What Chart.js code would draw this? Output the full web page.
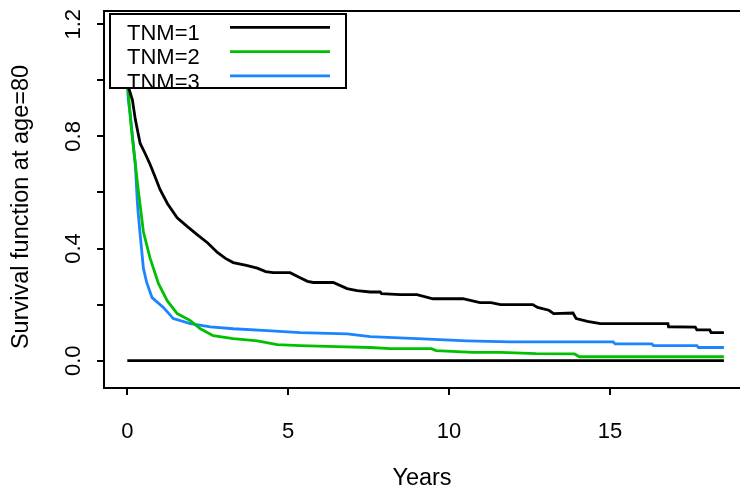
<!DOCTYPE html>
<html>
<head>
<meta charset="utf-8">
<script src="https://cdn.jsdelivr.net/npm/chart.js@4.4.1/dist/chart.umd.min.js"></script>
<style>
  body { margin: 0; background: #fff; }
  canvas { display: block; }
</style>
</head>
<body>
<canvas id="grafica" width="740" height="493"></canvas>
<script>
// Kaplan-Meier style curves (years, survival)
const tnm1_years = [0, 0.05, 0.16, 0.25, 0.40, 0.55, 0.71, 0.85, 1.02, 1.25, 1.55, 1.85, 2.17, 2.5, 2.8, 3.05, 3.29, 3.7, 4.04, 4.3, 4.53, 5.06, 5.37, 5.6, 5.78, 6.40, 6.83, 7.14, 7.55, 7.86, 7.9, 8.48, 9.0, 9.5, 10.43, 10.96, 11.3, 11.6, 12.6, 12.75, 13.1, 13.25, 13.85, 13.95, 14.3, 14.7, 16.8, 16.82, 17.65, 17.7, 18.1, 18.14, 18.54];
const tnm1_surv  = [1.0, 0.97, 0.93, 0.86, 0.775, 0.74, 0.70, 0.66, 0.61, 0.56, 0.51, 0.48, 0.45, 0.42, 0.386, 0.365, 0.35, 0.34, 0.33, 0.318, 0.314, 0.314, 0.296, 0.283, 0.279, 0.279, 0.257, 0.25, 0.245, 0.245, 0.239, 0.236, 0.236, 0.221, 0.221, 0.207, 0.207, 0.2, 0.2, 0.19, 0.18, 0.168, 0.17, 0.15, 0.14, 0.132, 0.132, 0.121, 0.12, 0.11, 0.11, 0.1, 0.1];

const tnm2_years = [0, 0.03, 0.1, 0.19, 0.34, 0.5, 0.71, 0.97, 1.24, 1.55, 1.96, 2.27, 2.67, 3.29, 4.04, 4.66, 5.37, 6.5, 7.55, 8.17, 9.45, 9.6, 10.75, 11.6, 12.7, 13.9, 14.05, 18.54];
const tnm2_surv  = [1.0, 0.96, 0.86, 0.76, 0.61, 0.46, 0.365, 0.275, 0.214, 0.168, 0.143, 0.114, 0.089, 0.079, 0.071, 0.057, 0.054, 0.05, 0.047, 0.043, 0.043, 0.036, 0.03, 0.03, 0.025, 0.024, 0.014, 0.014];

const tnm3_years = [0, 0.03, 0.09, 0.25, 0.31, 0.34, 0.4, 0.5, 0.6, 0.77, 1.12, 1.43, 1.96, 2.58, 3.29, 4.35, 5.37, 6.83, 7.55, 9.19, 10.56, 11.9, 15.1, 15.16, 16.3, 16.35, 17.7, 17.75, 18.54];
const tnm3_surv  = [1.0, 0.93, 0.88, 0.70, 0.57, 0.525, 0.45, 0.33, 0.28, 0.225, 0.19, 0.15, 0.132, 0.121, 0.114, 0.107, 0.1, 0.096, 0.086, 0.078, 0.071, 0.067, 0.067, 0.06, 0.06, 0.054, 0.054, 0.047, 0.047];

const zero_years = [0, 18.54];
const zero_surv  = [0, 0];

const etiquetas = ['TNM=1', 'TNM=2', 'TNM=3'];
const colores = ['#000000', '#00c000', '#1a85ff'];

const xTicks = [0, 5, 10, 15];
const xTickLabels = ['0', '5', '10', '15'];
const yTicks = [0, 0.2, 0.4, 0.6, 0.8, 1.0, 1.2];
const yTickLabels = ['0.0', '', '0.4', '', '0.8', '', '1.2'];

const tituloX = 'Years';
const tituloY = 'Survival function at age=80';

const fuente = '"Liberation Sans", Arial, sans-serif';

function puntos(xs, ys) {
  return xs.map(function(x, i) { return { x: x, y: ys[i] }; });
}

// legend drawn inside the plot, text first and line sample after it
const leyenda = {
  id: 'leyenda',
  afterDatasetsDraw(chart) {
    const ctx = chart.ctx;
    ctx.save();
    ctx.fillStyle = '#fff';
    ctx.fillRect(110, 14, 236, 74);
    ctx.strokeStyle = '#000';
    ctx.lineWidth = 2;
    ctx.strokeRect(110, 14, 236, 74);
    ctx.font = '22px ' + fuente;
    ctx.textBaseline = 'alphabetic';
    chart.data.datasets.slice(0, 3).forEach(function(ds, i) {
      const y = 40 + i * 24.3;
      ctx.fillStyle = '#000';
      ctx.fillText(ds.label, 127, y);
      ctx.strokeStyle = ds.borderColor;
      ctx.lineWidth = 2.8;
      ctx.beginPath();
      ctx.moveTo(230, y - 12.7);
      ctx.lineTo(330, y - 12.7);
      ctx.stroke();
    });
    ctx.restore();
  }
};

// y axis title, sits a little below the middle of the plot like in the original
const tituloEjeY = {
  id: 'tituloEjeY',
  afterDraw(chart) {
    const ctx = chart.ctx;
    ctx.save();
    ctx.translate(22, 207);
    ctx.rotate(-Math.PI / 2);
    ctx.font = '23.5px ' + fuente;
    ctx.fillStyle = '#000';
    ctx.textAlign = 'center';
    ctx.textBaseline = 'middle';
    ctx.fillText(tituloY, 0, 0);
    ctx.restore();
  }
};

function graficar() {
  const ctx = document.getElementById('grafica');
  Chart.defaults.font.family = fuente;
  Chart.defaults.font.size = 22;
  Chart.defaults.color = '#000';

  const serie = function(label, xs, ys, color) {
    return {
      label: label,
      data: puntos(xs, ys),
      borderColor: color,
      borderWidth: 2.8,
      pointRadius: 0,
      tension: 0,
      fill: false
    };
  };

  const ejeGrid = { display: true, drawOnChartArea: false, drawTicks: true, tickLength: 7, color: '#000', lineWidth: 2 };
  const ejeBorde = { display: true, color: '#000', width: 2 };

  new Chart(ctx, {
    type: 'line',
    data: {
      datasets: [
        serie(etiquetas[0], tnm1_years, tnm1_surv, colores[0]),
        serie(etiquetas[1], tnm2_years, tnm2_surv, colores[1]),
        serie(etiquetas[2], tnm3_years, tnm3_surv, colores[2]),
        serie('', zero_years, zero_surv, '#000000')
      ]
    },
    options: {
      responsive: false,
      animation: false,
      layout: { padding: 0 },
      plugins: { legend: { display: false }, tooltip: { enabled: false } },
      scales: {
        x: {
          type: 'linear',
          position: 'bottom',
          min: -0.724,
          max: 19.04,
          grid: ejeGrid,
          border: ejeBorde,
          afterFit: function(s) { s.height = 105; s.paddingLeft = 0; s.paddingRight = 0; },
          afterBuildTicks: function(s) { s.ticks = xTicks.map(function(v) { return { value: v }; }); },
          ticks: {
            autoSkip: false,
            maxRotation: 0,
            padding: 24,
            callback: function(v, i) { return xTickLabels[i]; }
          },
          title: { display: true, text: tituloX, font: { size: 23.5 }, padding: { top: 0, bottom: 0 } }
        },
        xTop: {
          type: 'linear',
          position: 'top',
          min: -0.724,
          max: 19.04,
          grid: { display: false },
          border: ejeBorde,
          ticks: { display: false },
          afterFit: function(s) { s.height = 11; s.paddingLeft = 0; s.paddingRight = 0; }
        },
        y: {
          type: 'linear',
          position: 'left',
          min: -0.0974,
          max: 1.2474,
          grid: ejeGrid,
          border: ejeBorde,
          afterFit: function(s) { s.width = 104; s.paddingTop = 0; s.paddingBottom = 0; },
          afterBuildTicks: function(s) { s.ticks = yTicks.map(function(v) { return { value: v }; }); },
          ticks: {
            autoSkip: false,
            minRotation: 90,
            maxRotation: 90,
            crossAlign: 'center',
            padding: 8,
            callback: function(v, i) { return yTickLabels[i]; }
          }
        }
      }
    },
    plugins: [leyenda, tituloEjeY]
  });
}

graficar();
</script>
</body>
</html>
